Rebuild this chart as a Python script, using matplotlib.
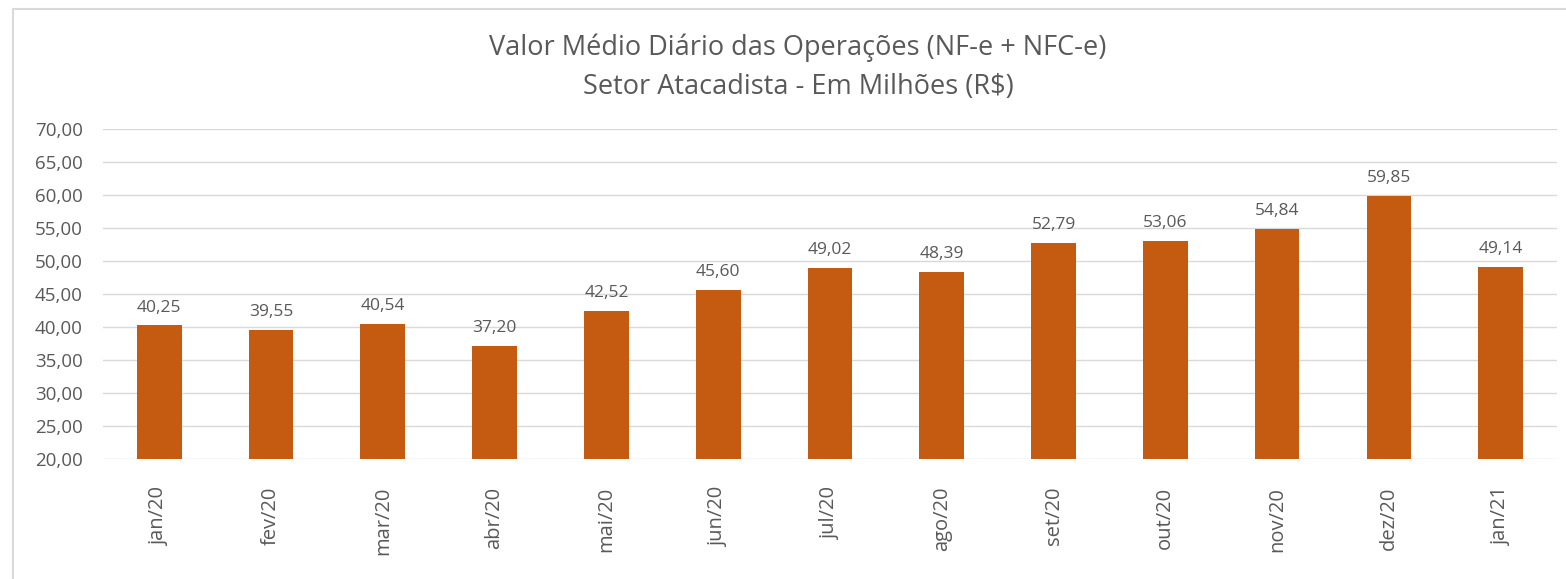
import matplotlib
matplotlib.use("Agg")
import matplotlib.pyplot as plt
from matplotlib.patches import Rectangle

months = ["jan/20", "fev/20", "mar/20", "abr/20", "mai/20", "jun/20", "jul/20",
          "ago/20", "set/20", "out/20", "nov/20", "dez/20", "jan/21"]
values = [40.25, 39.55, 40.54, 37.20, 42.52, 45.60, 49.02,
          48.39, 52.79, 53.06, 54.84, 59.85, 49.14]
yticks = [20, 25, 30, 35, 40, 45, 50, 55, 60, 65, 70]

BAR_COLOR = "#C55A11"
TEXT_COLOR = "#595959"
GRID_COLOR = "#D9D9D9"


def fmt(v):
    return f"{v:.2f}".replace(".", ",")


def main():
    plt.rcParams["font.family"] = ["Open Sans", "DejaVu Sans"]
    fig = plt.figure(figsize=(15.66, 5.79), dpi=100)
    # chart frame: only left and top edges fall inside the picture
    fig.patches.append(Rectangle((13 / 1566, -0.05), 1.2, 1.05 - 9 / 579,
                                 transform=fig.transFigure, fill=False,
                                 edgecolor="#D9D9D9", linewidth=1.5))
    ax = fig.add_axes([0.066, 0.207, 0.928, 0.570])

    x = range(len(months))
    bars = ax.bar(x, values, width=0.4, color=BAR_COLOR, zorder=3)
    for b, v in zip(bars, values):
        ax.annotate(fmt(v), (b.get_x() + b.get_width() / 2, v), xytext=(0, 7),
                    textcoords="offset points", ha="center", va="bottom",
                    fontsize=12.5, color=TEXT_COLOR)

    ax.set_ylim(20, 70)
    ax.set_xlim(-0.5, len(months) - 0.5)
    ax.set_yticks(yticks)
    ax.set_yticklabels([fmt(t) for t in yticks], fontsize=13.5, color=TEXT_COLOR)
    ax.set_xticks(list(x))
    ax.set_xticklabels(months, rotation=90, fontsize=14.5, color=TEXT_COLOR)
    ax.tick_params(axis="x", length=0, pad=20)
    ax.tick_params(axis="y", length=0, pad=15)
    ax.grid(axis="y", color=GRID_COLOR, linewidth=1)
    for s in ax.spines.values():
        s.set_visible(False)

    fig.text(798 / 1566, 1 - 48 / 579, "Valor Médio Diário das Operações (NF-e + NFC-e)",
             ha="center", va="center", fontsize=19.5, color=TEXT_COLOR)
    fig.text(798 / 1566, 1 - 87 / 579, "Setor Atacadista - Em Milhões (R$)",
             ha="center", va="center", fontsize=19.5, color=TEXT_COLOR)

    fig.savefig("out.png", dpi=100)


if __name__ == "__main__":
    main()
